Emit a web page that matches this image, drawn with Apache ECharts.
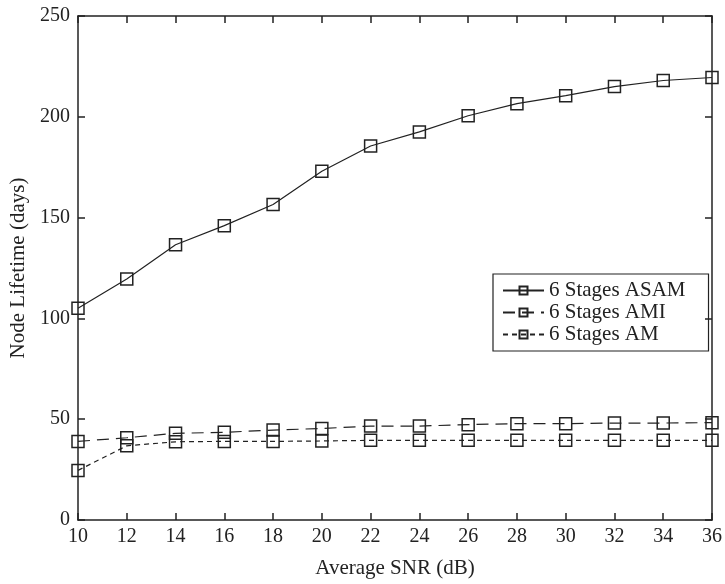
<!DOCTYPE html>
<html>
<head>
<meta charset="utf-8">
<script src="https://cdn.jsdelivr.net/npm/echarts@6/dist/echarts.min.js"></script>
<style>
  html, body { margin: 0; padding: 0; background: #fff; }
  #chart { width: 725px; height: 584px; }
</style>
</head>
<body>
<div id="chart"></div>
<script>
const snr = [10, 12, 14, 16, 18, 20, 22, 24, 26, 28, 30, 32, 34, 36]
const asam = [105, 119.5, 136.5, 146, 156.5, 173, 185.5, 192.5, 200.5, 206.5, 210.5, 215, 218, 219.5]
const ami = [39, 40.8, 43, 43.5, 44.6, 45.4, 46.6, 46.6, 47.3, 47.8, 47.8, 48.1, 48.1, 48.3]
const am = [24.6, 36.8, 38.8, 39, 39, 39.2, 39.5, 39.5, 39.5, 39.5, 39.5, 39.5, 39.5, 39.5]
const yTicks = [0, 50, 100, 150, 200, 250]

const ink = '#222'
const font = 'Liberation Serif'

function pairs(vals) {
  return snr.map((x, i) => [x, vals[i]])
}

function lineSeries(name, vals, dash) {
  return {
    name: name,
    type: 'line',
    data: pairs(vals),
    symbol: 'rect',
    symbolSize: 12,
    showSymbol: true,
    animation: false,
    lineStyle: { color: ink, width: 1.2, type: dash },
    itemStyle: { color: 'rgba(0,0,0,0)', borderColor: ink, borderWidth: 1.5 }
  }
}

const chart = echarts.init(document.getElementById('chart'))

const axisBase = {
  type: 'value',
  axisLine: { show: true, onZero: false, lineStyle: { color: ink, width: 1.5 } },
  axisTick: { show: true, inside: true, length: 7, lineStyle: { color: ink, width: 1.5 } },
  splitLine: { show: false }
}

chart.setOption({
  backgroundColor: '#fff',
  textStyle: { fontFamily: font, color: ink },
  grid: { left: 76, right: 12, top: 16, bottom: 64 },
  legend: {
    orient: 'vertical',
    left: 493,
    top: 274,
    width: 215,
    padding: [6, 23, 6, 9],
    itemGap: 1,
    itemWidth: 41,
    itemHeight: 10,
    borderColor: ink,
    borderWidth: 1.2,
    textStyle: { fontFamily: font, fontSize: 21, lineHeight: 21, color: ink },
    data: ['6 Stages ASAM', '6 Stages AMI', '6 Stages AM']
  },
  xAxis: [
    Object.assign({}, axisBase, {
      min: 10, max: 36, interval: 2,
      name: 'Average SNR (dB)',
      nameLocation: 'middle',
      nameGap: 38,
      nameTextStyle: { fontFamily: font, fontSize: 21, color: ink },
      axisLabel: { fontFamily: font, fontSize: 20, color: ink, margin: 7 }
    }),
    Object.assign({}, axisBase, {
      min: 10, max: 36, interval: 2, position: 'top',
      axisLabel: { show: false }
    })
  ],
  yAxis: [
    Object.assign({}, axisBase, {
      min: yTicks[0], max: yTicks[yTicks.length - 1], interval: 50,
      name: 'Node Lifetime (days)',
      nameLocation: 'middle',
      nameGap: 49,
      nameTextStyle: { fontFamily: font, fontSize: 21, color: ink },
      axisLabel: { fontFamily: font, fontSize: 20, color: ink, margin: 8 }
    }),
    Object.assign({}, axisBase, {
      min: yTicks[0], max: yTicks[yTicks.length - 1], interval: 50, position: 'right',
      axisLabel: { show: false }
    })
  ],
  series: [
    lineSeries('6 Stages ASAM', asam, 'solid'),
    lineSeries('6 Stages AMI', ami, [12, 7]),
    lineSeries('6 Stages AM', am, [5, 4])
  ]
})
</script>
</body>
</html>
